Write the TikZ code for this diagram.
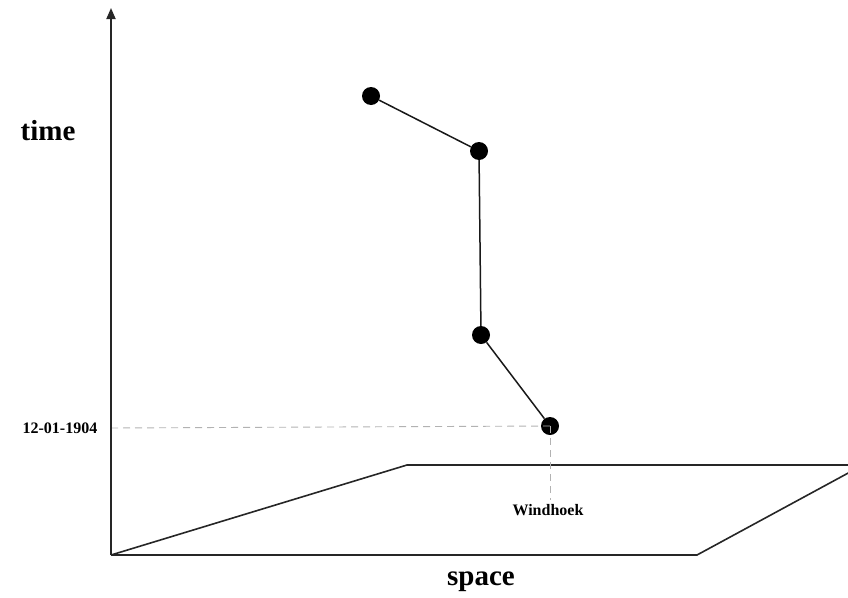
\documentclass[tikz,border=0pt]{standalone}
\usepackage{fontspec}
\setmainfont{Liberation Serif}
\usetikzlibrary{arrows.meta}
\begin{document}
\begin{tikzpicture}[x=1pt,y=-1pt,
  axisline/.style={line width=1.8pt,draw=black!85},
  planeline/.style={line width=1.6pt,draw=black!85},
  track/.style={line width=1.5pt,draw=black!90},
  guide/.style={line width=0.9pt,draw=black!30,dash pattern=on 7pt off 5pt},
  event/.style={circle,fill=black,inner sep=0pt,minimum size=18pt},
  biglabel/.style={font=\fontsize{29}{32}\selectfont\bfseries},
  smalllabel/.style={font=\fontsize{16}{18}\selectfont\bfseries}]
\useasboundingbox (0,0) rectangle (848,597);
\begin{scope}
\clip (0,0) rectangle (848,597);
% axes origin and arrow
\coordinate (o) at (111,555);
\coordinate (top) at (111,8);
% ground plane
\coordinate (p1) at (407,465);
\coordinate (p2) at (870,465);
\coordinate (p3) at (697,555);
\draw[planeline] (o) -- (p1) -- (p2);
\draw[planeline] (o) -- (p3) -- (863,465);
% events
\node[event] (e1) at (371,96) {};
\node[event] (e2) at (479,151) {};
\node[event] (e3) at (481,335) {};
\node[event] (e4) at (550,426) {};
% guide lines
\coordinate (tmark) at (111,428);
\coordinate (smark) at (550,500);
\draw[guide] (tmark) -- (e4.center);
\draw[guide] (e4.center) -- (smark);
\draw[track] (e1) -- (e2) -- (e3) -- (e4);
\draw[axisline,-{Triangle[length=11pt,width=9pt]}] (o) -- (top);
\end{scope}
% labels
\node[biglabel] (tl) at (48,131) {time};
\node[biglabel] (sl) at (481,582) {space};
\node[smalllabel] (dl) at (60,428) {12-01-1904};
\node[smalllabel] (wl) at (548,510) {Windhoek};
\end{tikzpicture}
\end{document}
